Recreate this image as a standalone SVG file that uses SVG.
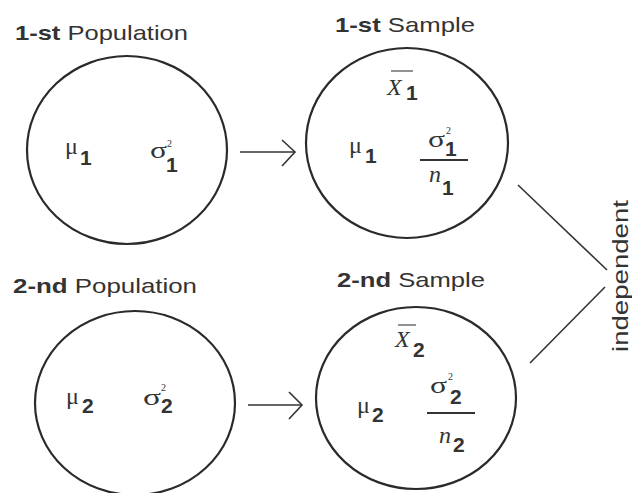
<svg xmlns="http://www.w3.org/2000/svg" width="632" height="493" viewBox="0 0 632 493">
<style>
.c{fill:none;stroke:#2a2a2a;stroke-width:2.2}
.l{fill:none;stroke:#333;stroke-width:1.6}
.lab{font-family:"Liberation Sans",Arial,sans-serif;font-size:21px;fill:#333}
.b{font-weight:bold}
.g{font-family:"Liberation Serif","Times New Roman",serif;font-size:24px;fill:#333}
.gi{font-family:"Liberation Serif","Times New Roman",serif;font-size:24px;font-style:italic;fill:#333}
.sup{font-family:"Liberation Serif","Times New Roman",serif;font-size:10px;fill:#333}
.d{font-family:"Liberation Sans",Arial,sans-serif;font-size:21px;font-weight:bold;fill:#333}
.fr{stroke:#333;stroke-width:2}
.ov{stroke:#555;stroke-width:1.3}
</style>
<rect width="632" height="493" fill="#fff"/>
<g id="pop1">
<text class="lab" x="15" y="40" textLength="173" lengthAdjust="spacingAndGlyphs"><tspan class="b">1-st</tspan> Population</text>
<ellipse class="c" cx="127" cy="150" rx="100" ry="94"/>
<text class="g" x="65" y="154">μ</text><text class="d" x="80" y="165">1</text>
<text class="g" x="150" y="158" textLength="17" lengthAdjust="spacingAndGlyphs">σ</text><text class="sup" x="167" y="147">2</text><text class="d" x="166" y="172">1</text>
</g>
<g id="sample1">
<text class="lab" x="335" y="32" textLength="140" lengthAdjust="spacingAndGlyphs"><tspan class="b">1-st</tspan> Sample</text>
<ellipse class="c" cx="407" cy="143" rx="101" ry="95"/>
<line class="ov" x1="391" y1="71" x2="413" y2="71"/>
<text class="gi" x="387" y="95">X</text><text class="d" x="406" y="100">1</text>
<text class="g" x="349" y="153">μ</text><text class="d" x="365" y="163">1</text>
<text class="g" x="428" y="147" textLength="17" lengthAdjust="spacingAndGlyphs">σ</text><text class="sup" x="446" y="134">2</text><text class="d" x="445" y="156">1</text>
<line class="fr" x1="420" y1="160" x2="468" y2="160"/>
<text class="gi" x="429" y="182">n</text><text class="d" x="442" y="195">1</text>
</g>
<g id="pop2">
<text class="lab" x="13" y="293" textLength="184" lengthAdjust="spacingAndGlyphs"><tspan class="b">2-nd</tspan> Population</text>
<ellipse class="c" cx="135" cy="403" rx="100" ry="92"/>
<text class="g" x="66" y="404">μ</text><text class="d" x="82" y="413">2</text>
<text class="g" x="143" y="405" textLength="18" lengthAdjust="spacingAndGlyphs">σ</text><text class="sup" x="161" y="391">2</text><text class="d" x="161" y="413">2</text>
</g>
<g id="sample2">
<text class="lab" x="337" y="287" textLength="148" lengthAdjust="spacingAndGlyphs"><tspan class="b">2-nd</tspan> Sample</text>
<ellipse class="c" cx="416" cy="398" rx="100" ry="91"/>
<line class="ov" x1="398" y1="325" x2="416" y2="325"/>
<text class="gi" x="395" y="347">X</text><text class="d" x="413" y="357">2</text>
<text class="g" x="357" y="413">μ</text><text class="d" x="372" y="422">2</text>
<text class="g" x="430" y="393" textLength="17" lengthAdjust="spacingAndGlyphs">σ</text><text class="sup" x="448" y="380">2</text><text class="d" x="450" y="404">2</text>
<line class="fr" x1="427" y1="413" x2="475" y2="413"/>
<text class="gi" x="439" y="443">n</text><text class="d" x="453" y="452">2</text>
</g>
<g id="independent">
<text class="lab" transform="translate(628,352) rotate(-90)" x="0" y="0" style="font-size:22px" textLength="152" lengthAdjust="spacingAndGlyphs">independent</text>
</g>
<g id="connectors">
<line class="l" x1="240" y1="152" x2="295" y2="152"/>
<polyline class="l" points="282,140 295,152 282,166"/>
<line class="l" x1="248" y1="405" x2="302" y2="405"/>
<polyline class="l" points="289,392 302,405 289,419"/>
<line class="l" x1="518" y1="185" x2="607" y2="270"/>
<line class="l" x1="605" y1="287" x2="530" y2="363"/>
</g>
</svg>
